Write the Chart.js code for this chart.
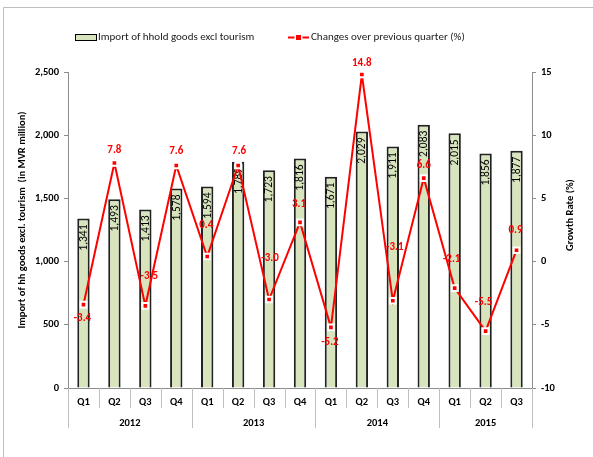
<!DOCTYPE html>
<html>
<head>
<meta charset="utf-8">
<script src="https://cdn.jsdelivr.net/npm/chart.js@4"></script>
<style>
  html, body { margin: 0; padding: 0; background: #fff; }
  #wrap { position: relative; width: 593px; height: 457px; }
</style>
</head>
<body>
<div id="wrap"><canvas id="c" width="593" height="457"></canvas></div>
<script>
// ---- data ----
const quarters = ['Q1','Q2','Q3','Q4','Q1','Q2','Q3','Q4','Q1','Q2','Q3','Q4','Q1','Q2','Q3'];
const years = ['2012','2013','2014','2015'];
const quartersPerYear = [4, 4, 4, 3];
const imports = [1341,1493,1413,1578,1594,1789,1723,1816,1671,2029,1911,2083,2015,1856,1877];
const growth = [-3.4,7.8,-3.5,7.6,0.4,7.6,-3.0,3.1,-5.2,14.8,-3.1,6.6,-2.1,-5.5,0.9];
const leftTicks = [0, 500, 1000, 1500, 2000, 2500];
const rightTicks = [-10, -5, 0, 5, 10, 15];
const barSeriesName = 'Import of hhold goods excl tourism';
const lineSeriesName = 'Changes over previous quarter (%)';
const leftTitle = 'Import of hh goods excl. tourism  (in MVR million)';
const rightTitle = 'Growth Rate (%)';

// ---- layout / style (not data) ----
const FONT = 'Carlito, "Liberation Sans Narrow", "Liberation Sans", Arial, sans-serif';
const lineLabelOffsets = [[-1,14],[0,-13],[4,-30],[0,-14],[-1,-31],[1,-14],[1,-41],[-1,-18],[-1,15],[0,-11],[2,-54],[0,-13],[-3,-29],[-2,-29],[-1,-20]];

const fmt = v => v.toLocaleString('en-US');

const decor = {
  id: 'decor',
  beforeDraw(chart) {
    const ctx = chart.ctx;
    ctx.save();
    ctx.strokeStyle = '#bdbdbd';
    ctx.lineWidth = 1;
    ctx.beginPath();
    ctx.moveTo(3.5, 457);
    ctx.lineTo(3.5, 7.5);
    ctx.lineTo(593, 7.5);
    ctx.stroke();
    ctx.restore();
  },
  afterDatasetDraw(chart, args) {
    if (args.index !== 0) return;
    const ctx = chart.ctx;
    const meta = chart.getDatasetMeta(0);
    ctx.save();
    ctx.fillStyle = '#000';
    ctx.font = '11.5px ' + FONT;
    ctx.textAlign = 'right';
    ctx.textBaseline = 'middle';
    meta.data.forEach((bar, i) => {
      ctx.save();
      ctx.translate(bar.x, bar.y + 6);
      ctx.rotate(-Math.PI / 2);
      ctx.fillText(fmt(imports[i]), 0, 0.5);
      ctx.restore();
    });
    ctx.restore();
  },
  afterDatasetsDraw(chart) {
    const ctx = chart.ctx;
    const meta = chart.getDatasetMeta(1);
    ctx.save();
    ctx.fillStyle = '#ff0000';
    ctx.font = 'bold 11px ' + FONT;
    ctx.textAlign = 'center';
    ctx.textBaseline = 'middle';
    meta.data.forEach((pt, i) => {
      const o = lineLabelOffsets[i];
      ctx.fillText(growth[i].toFixed(1), pt.x + o[0], pt.y + o[1]);
    });
    ctx.restore();
  },
  afterDraw(chart) {
    const ctx = chart.ctx;
    const area = chart.chartArea;
    const bottom = area.bottom;
    const step = (area.right - area.left) / quarters.length;
    ctx.save();
    ctx.strokeStyle = '#bfbfbf';
    ctx.lineWidth = 1;
    // quarter separators
    for (let i = 0; i <= quarters.length; i++) {
      const px = Math.round(area.left + step * i) + 0.5;
      ctx.beginPath();
      ctx.moveTo(px, bottom);
      ctx.lineTo(px, bottom + 20);
      ctx.stroke();
    }
    // year separators and labels
    let idx = 0;
    ctx.fillStyle = '#000';
    ctx.font = 'bold 10.5px ' + FONT;
    ctx.textAlign = 'center';
    ctx.textBaseline = 'middle';
    years.forEach((y, k) => {
      const start = idx, end = idx + quartersPerYear[k];
      const x0 = area.left + step * start;
      const x1 = area.left + step * end;
      [x0, x1].forEach(px => {
        const p = Math.round(px) + 0.5;
        ctx.beginPath();
        ctx.moveTo(p, bottom);
        ctx.lineTo(p, bottom + 40);
        ctx.stroke();
      });
      ctx.fillText(y, (x0 + x1) / 2, bottom + 35);
      idx = end;
    });
    // axis titles
    ctx.font = 'bold 10.5px ' + FONT;
    ctx.save();
    ctx.translate(22, 220);
    ctx.rotate(-Math.PI / 2);
    ctx.fillText(leftTitle, 0, 0);
    ctx.restore();
    ctx.save();
    ctx.translate(570, 215);
    ctx.rotate(-Math.PI / 2);
    ctx.fillText(rightTitle, 0, 0);
    ctx.restore();
    // legend
    ctx.fillStyle = '#d7e4bd';
    ctx.fillRect(75.5, 34.5, 21, 6);
    ctx.strokeStyle = '#000';
    ctx.lineWidth = 1;
    ctx.strokeRect(75.5, 34.5, 21, 6);
    ctx.font = '11px ' + FONT;
    ctx.textAlign = 'left';
    ctx.fillStyle = '#1a1a1a';
    ctx.fillText(barSeriesName, 98, 37.5);
    ctx.strokeStyle = '#ff0000';
    ctx.lineWidth = 2;
    ctx.beginPath();
    ctx.moveTo(288, 37.5);
    ctx.lineTo(309, 37.5);
    ctx.stroke();
    ctx.fillStyle = '#fff';
    ctx.fillRect(294.5, 33.5, 8, 8);
    ctx.fillStyle = '#ff0000';
    ctx.fillRect(296, 35, 5, 5);
    ctx.fillStyle = '#1a1a1a';
    ctx.fillText(lineSeriesName, 311, 37.5);
    ctx.restore();
  }
};

new Chart(document.getElementById('c'), {
  type: 'bar',
  data: {
    labels: quarters,
    datasets: [
      {
        type: 'bar',
        label: barSeriesName,
        data: imports,
        yAxisID: 'y',
        backgroundColor: '#d7e4bd',
        borderColor: '#222',
        borderWidth: { top: 2, left: 2, right: 2, bottom: 0 },
        borderSkipped: 'bottom',
        categoryPercentage: 1,
        barPercentage: 0.4,
        order: 2
      },
      {
        type: 'line',
        label: lineSeriesName,
        data: growth,
        yAxisID: 'y1',
        borderColor: '#ff0000',
        borderWidth: 2,
        pointStyle: 'rect',
        pointRadius: 4,
        pointBackgroundColor: '#ff0000',
        pointBorderColor: '#ffffff',
        pointBorderWidth: 2,
        tension: 0,
        order: 1
      }
    ]
  },
  options: {
    responsive: false,
    animation: false,
    devicePixelRatio: 1,
    layout: { padding: { left: 12, right: 13, top: 72, bottom: 44 } },
    plugins: { legend: { display: false }, tooltip: { enabled: false } },
    scales: {
      x: {
        offset: true,
        grid: { display: false, drawTicks: false },
        border: { display: true, color: '#8c8c8c', width: 1 },
        ticks: { color: '#000', font: { family: FONT, size: 10.5, weight: 'bold' }, padding: 8, maxRotation: 0, autoSkip: false },
        afterFit(s) { s.height = 25; }
      },
      y: {
        position: 'left',
        min: 0, max: 2500,
        afterBuildTicks(s) { s.ticks = leftTicks.map(v => ({ value: v })); },
        grid: { drawOnChartArea: false, tickLength: 4, color: '#8c8c8c' },
        border: { color: '#8c8c8c' },
        ticks: { color: '#000', font: { family: FONT, size: 10.5, weight: 'bold' }, padding: 5, callback: v => fmt(v) },
        title: { display: false },
        afterFit(s) { s.width = 56; }
      },
      y1: {
        position: 'right',
        min: -10, max: 15,
        afterBuildTicks(s) { s.ticks = rightTicks.map(v => ({ value: v })); },
        grid: { drawOnChartArea: false, tickLength: 4, color: '#8c8c8c' },
        border: { color: '#8c8c8c' },
        ticks: { color: '#000', font: { family: FONT, size: 10.5, weight: 'bold' }, padding: 5 },
        title: { display: false },
        afterFit(s) { s.width = 48; }
      }
    }
  },
  plugins: [decor]
});
</script>
</body>
</html>
